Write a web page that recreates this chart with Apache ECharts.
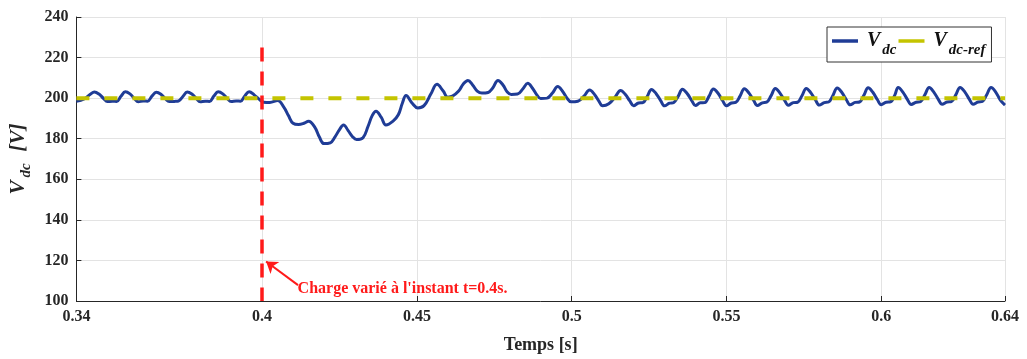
<!DOCTYPE html>
<html><head><meta charset="utf-8">
<script src="https://cdn.jsdelivr.net/npm/echarts@6/dist/echarts.min.js"></script>
<style>html,body{margin:0;padding:0;background:#fff}#c{width:1027px;height:359px}</style>
</head><body><div id="c"></div>
<script>
const xTicks = [0.34, 0.4, 0.45, 0.5, 0.55, 0.6, 0.64];
const vdcT = [
0.3400,0.3425,0.3445,0.3458,
0.3473,0.3488,0.3500,0.3516,0.3530,0.3544,0.3558,
0.3573,0.3588,0.3600,0.3616,0.3630,0.3644,0.3658,
0.3673,0.3688,0.3700,0.3716,0.3730,0.3744,0.3758,
0.3773,0.3788,0.3800,0.3816,0.3830,0.3844,0.3858,
0.3873,0.3888,0.3900,0.3916,0.3930,0.3944,0.3958,
0.3975,0.3990,0.4005,0.4025,0.4050,0.4070,0.4085,0.4100,0.4118,0.4135,0.4150,0.4170,0.4185,0.4200,0.4220,0.4235,
0.4250,0.4263,0.4278,0.4292,0.4305,0.4326,0.4342,0.4356,0.4368,0.4385,0.4400,0.4423,0.4440,0.4453,0.4465,0.4485,
0.4503,0.4523,0.4545,0.4565,0.4585,0.4600,0.4615,0.4635,0.4650,0.4665,0.4680,0.4695,0.4710,0.4730,0.4745,0.4762,
0.4778,0.4792,0.4805,0.4825,0.4842,0.4858,0.4873,0.4888,0.4900,0.4920,0.4938,0.4955,0.4970,0.4985,0.4998,0.5020,
0.5040,0.5058,0.5073,0.5088,0.5100,0.5120,0.5140,0.5158,
0.5173,0.5188,0.5200,0.5216,0.5230,0.5244,0.5258,
0.5273,0.5288,0.5300,0.5316,0.5330,0.5344,0.5358,
0.5373,0.5388,0.5400,0.5416,0.5430,0.5444,0.5458,
0.5473,0.5488,0.5500,0.5516,0.5530,0.5544,0.5558,
0.5573,0.5588,0.5600,0.5616,0.5630,0.5644,0.5658,
0.5673,0.5688,0.5700,0.5716,0.5730,0.5744,0.5758,
0.5773,0.5788,0.5800,0.5816,0.5830,0.5844,0.5858,
0.5873,0.5888,0.5900,0.5916,0.5930,0.5944,0.5958,
0.5973,0.5988,0.6000,0.6016,0.6030,0.6044,0.6055,
0.6070,0.6085,0.6097,0.6113,0.6127,0.6141,0.6155,
0.6170,0.6185,0.6197,0.6213,0.6227,0.6241,0.6255,
0.6270,0.6285,0.6297,0.6313,0.6327,0.6341,0.6355,
0.6370,0.6385,0.6400
];
const vdcV = [
198.4,199.6,201.9,203.0,
202.0,199.8,198.3,198.5,198.4,200.9,203.1,
202.1,199.7,198.2,198.6,198.5,201.0,202.9,
201.9,199.6,198.3,198.4,198.6,200.8,203.0,
202.0,199.8,198.2,198.5,198.4,201.0,203.1,
202.1,199.7,198.3,198.6,198.5,201.1,203.2,
201.5,199.5,198.0,197.9,198.8,195.6,191.4,187.6,187.0,187.6,188.6,185.7,180.8,177.6,178.0,180.8,
184.5,186.8,184.0,181.0,179.6,180.5,186.0,191.5,193.6,190.5,186.8,188.7,191.8,197.5,201.3,197.5,
195.2,196.3,202.0,206.8,203.5,200.5,201.0,203.5,207.0,208.7,206.5,203.5,202.5,202.8,205.0,208.7,
206.5,203.0,201.8,202.0,204.5,207.3,205.0,201.5,199.8,200.0,202.5,205.7,203.5,200.0,198.2,198.5,
201.0,204.0,202.0,198.5,196.2,197.2,200.5,203.8,
201.9,198.6,196.3,197.6,197.8,200.8,204.3,
202.2,198.7,196.2,197.5,197.9,200.9,204.4,
202.3,198.8,196.4,197.7,197.8,201.0,204.5,
202.4,198.7,196.3,197.6,197.9,201.0,204.6,
202.5,198.9,196.4,197.7,198.0,201.1,204.7,
202.5,198.9,196.5,197.8,198.0,201.2,204.8,
202.6,199.0,196.6,197.8,198.1,201.3,205.0,
202.8,199.1,196.7,197.9,198.1,201.4,205.1,
202.9,199.2,196.8,198.0,198.2,201.5,205.2,
203.0,199.3,196.9,198.0,198.3,201.6,205.2,
203.0,199.3,197.0,198.1,198.3,201.6,205.3,
203.1,199.4,197.0,198.1,198.4,201.7,205.2,
203.0,199.0,196.6
];
const refT = [0.34, 0.64];
const refV = [200, 200];
const eventT = 0.4;
const eventV = [225, 100];
const arrowFrom = [0.4116, 107.8];
const arrowTo = [0.40129, 119.5];
const notePos = [0.4113, 105.9];
const noteText = "Charge varié à l'instant t=0.4s.";

const serif = 'Liberation Serif';
const chart = echarts.init(document.getElementById('c'));
const vdcData = vdcT.map((t, i) => [t, vdcV[i]]);
const refData = refT.map((t, i) => [t, refV[i]]);

chart.setOption({
  animation: false,
  backgroundColor: '#fff',
  grid: {left: 75, right: 22, top: 17, bottom: 55},
  legend: {
    left: 827, top: 27, orient: 'horizontal',
    backgroundColor: '#fff', borderColor: '#333', borderWidth: 1,
    padding: [4, 6, 4, 5], itemGap: 2, itemWidth: 26, itemHeight: 3.5,
    data: [{name: 'Vdc', icon: 'rect'}, {name: 'Vdc-ref', icon: 'rect'}],
    formatter: n => n === 'Vdc' ? '{v|V}{s|dc}' : '{v|V}{s|dc-ref}',
    textStyle: {
      rich: {
        v: {fontFamily: serif, fontStyle: 'italic', fontWeight: 'bold', fontSize: 20, color: '#111', padding: [0, 2, 0, 4]},
        s: {fontFamily: serif, fontStyle: 'italic', fontWeight: 'bold', fontSize: 15, color: '#111', padding: [19, 0, 0, 0]}
      }
    }
  },
  xAxis: {
    type: 'value', min: 0.34, max: 0.64,
    name: 'Temps [s]', nameLocation: 'middle', nameGap: 35,
    nameTextStyle: {fontFamily: serif, fontWeight: 'bold', fontSize: 18, color: '#262626'},
    axisLine: {lineStyle: {color: '#262626', width: 1}},
    axisTick: {inside: true, length: 5, customValues: xTicks, lineStyle: {color: '#262626'}},
    axisLabel: {customValues: xTicks, fontFamily: serif, fontWeight: 'bold', fontSize: 16, color: '#262626', margin: 8},
    splitLine: {show: true, lineStyle: {color: '#e3e3e3', width: 1}}
  },
  yAxis: {
    type: 'value', min: 100, max: 240, interval: 20,
    name: '{v|V}{s|dc}{b|[V]}', nameLocation: 'middle', nameGap: 42,
    nameTextStyle: {
      rich: {
        v: {fontFamily: serif, fontStyle: 'italic', fontWeight: 'bold', fontSize: 21, color: '#262626', padding: [0, 3, 0, 0]},
        s: {fontFamily: serif, fontStyle: 'italic', fontWeight: 'bold', fontSize: 15, color: '#262626', padding: [15, 12, 0, 0]},
        b: {fontFamily: serif, fontStyle: 'italic', fontWeight: 'bold', fontSize: 21, color: '#262626', padding: [0, 0, 0, 0]}
      }
    },
    axisLine: {show: true, lineStyle: {color: '#262626', width: 1}},
    axisTick: {show: true, inside: true, length: 5, lineStyle: {color: '#262626'}},
    axisLabel: {fontFamily: serif, fontWeight: 'bold', fontSize: 16, color: '#262626', margin: 8},
    splitLine: {show: true, lineStyle: {color: '#e3e3e3', width: 1}}
  },
  series: [
    {
      name: 'Vdc', type: 'line', data: vdcData, smooth: 0.4, showSymbol: false, z: 3,
      lineStyle: {color: '#1f3c96', width: 3}, itemStyle: {color: '#1f3c96'},
      markLine: {
        silent: true, symbol: ['none', 'arrow'], symbolSize: 11,
        label: {show: false},
        lineStyle: {color: '#ff1a1a', width: 2, type: 'solid'},
        data: [[{coord: arrowFrom}, {coord: arrowTo}]]
      },
      markPoint: {
        silent: true, symbol: 'circle', symbolSize: 1,
        itemStyle: {color: 'rgba(0,0,0,0)'},
        label: {show: true, position: 'right', distance: 0, formatter: noteText,
          fontFamily: serif, fontWeight: 'bold', fontSize: 16, color: '#ff1a1a'},
        data: [{coord: notePos}]
      }
    },
    {
      name: 'Vdc-ref', type: 'line', data: refData, showSymbol: false, z: 4,
      lineStyle: {color: '#c4c400', width: 4, type: [13, 15]}, itemStyle: {color: '#c4c400'},
      markLine: {
        silent: true, symbol: ['none', 'none'], label: {show: false},
        lineStyle: {color: '#ff1a1a', width: 3.5, type: [14, 10]},
        data: [[{coord: [eventT, eventV[0]]}, {coord: [eventT, eventV[1]]}]]
      }
    }
  ]
});
</script></body></html>
